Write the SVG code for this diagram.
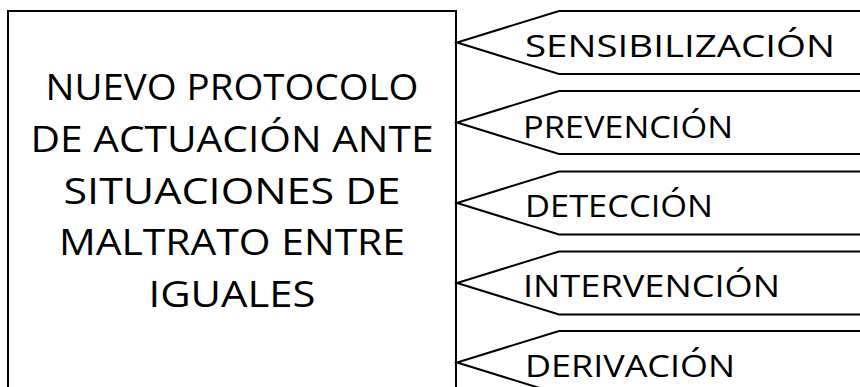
<svg xmlns="http://www.w3.org/2000/svg" width="860" height="387" viewBox="0 0 860 387">
<style>
.shape{fill:#ffffff;stroke:#000000;stroke-width:2}
.t{font-family:"Open Sans","Liberation Sans",sans-serif;fill:#000000}
.main{font-size:37px;text-anchor:middle}
.lab{font-size:31px}
</style>
<rect width="860" height="387" fill="#ffffff"/>
<g id="protocolo">
<rect class="shape" x="8" y="11" width="448" height="400"/>
<text class="t main" x="232" y="100" textLength="373" lengthAdjust="spacingAndGlyphs">NUEVO PROTOCOLO</text>
<text class="t main" x="232" y="152" textLength="403" lengthAdjust="spacingAndGlyphs">DE ACTUACIÓN ANTE</text>
<text class="t main" x="232" y="203.5" textLength="337" lengthAdjust="spacingAndGlyphs">SITUACIONES DE</text>
<text class="t main" x="232" y="255" textLength="346" lengthAdjust="spacingAndGlyphs">MALTRATO ENTRE</text>
<text class="t main" x="232" y="307" textLength="167" lengthAdjust="spacingAndGlyphs">IGUALES</text>
</g>
<g id="sensibilizacion">
<path class="shape" d="M 862,11 L 559,11 L 457,42.5 L 559,74 L 862,74"/>
<text class="t lab" x="525" y="57" textLength="310" lengthAdjust="spacingAndGlyphs">SENSIBILIZACIÓN</text>
</g>
<g id="prevencion">
<path class="shape" d="M 862,91 L 559,91 L 457,122.5 L 559,154 L 862,154"/>
<text class="t lab" x="523" y="137.5" textLength="210" lengthAdjust="spacingAndGlyphs">PREVENCIÓN</text>
</g>
<g id="deteccion">
<path class="shape" d="M 862,171.5 L 559,171.5 L 457,203 L 559,234.5 L 862,234.5"/>
<text class="t lab" x="525" y="217" textLength="188" lengthAdjust="spacingAndGlyphs">DETECCIÓN</text>
</g>
<g id="intervencion">
<path class="shape" d="M 862,251.5 L 559,251.5 L 457,283 L 559,314.5 L 862,314.5"/>
<text class="t lab" x="523" y="297" textLength="257" lengthAdjust="spacingAndGlyphs">INTERVENCIÓN</text>
</g>
<g id="derivacion">
<path class="shape" d="M 862,331 L 559,331 L 457,362.5 L 559,394 L 862,394"/>
<text class="t lab" x="525" y="377" textLength="210" lengthAdjust="spacingAndGlyphs">DERIVACIÓN</text>
</g>
</svg>
